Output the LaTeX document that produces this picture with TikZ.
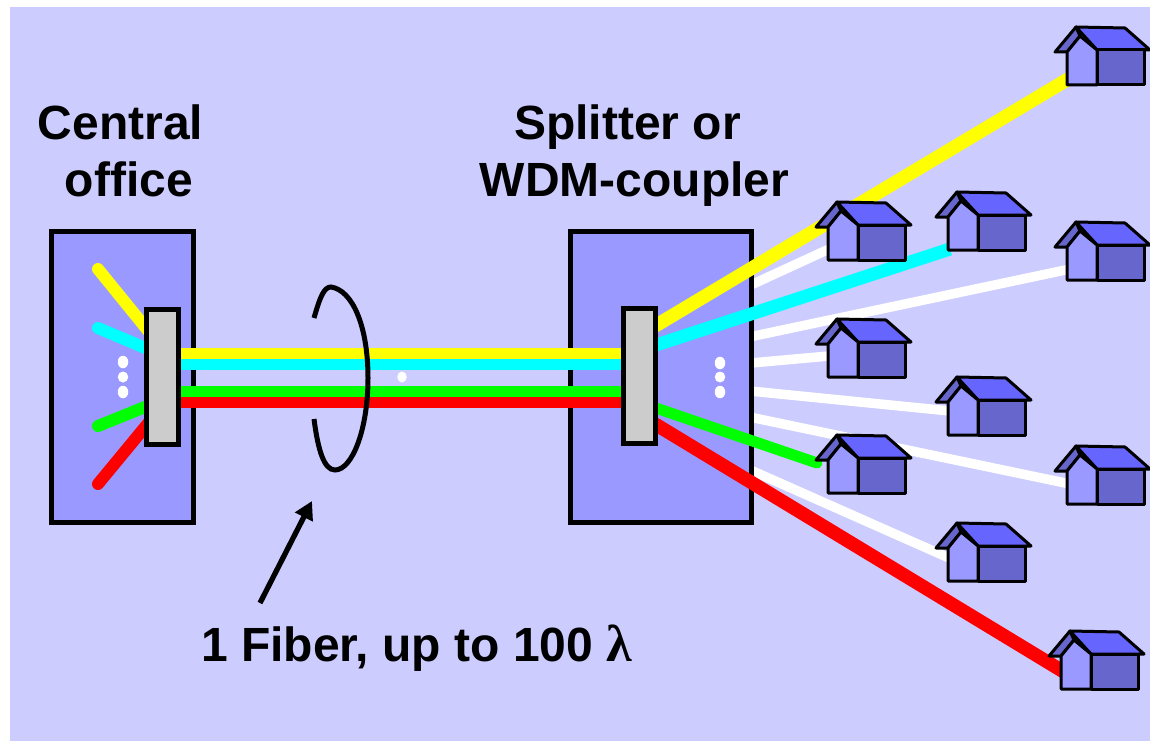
\documentclass[tikz,border=0pt]{standalone}
\usepackage{fontspec}
\setmainfont{Liberation Sans}
\newfontfamily\lambdafont{Liberation Serif}
\usepackage{tikz}
\usetikzlibrary{shapes.geometric,arrows.meta}
\definecolor{backblue}{HTML}{CCCCFF}
\definecolor{boxblue}{HTML}{9999FF}
\definecolor{roofblue}{HTML}{6666FF}
\definecolor{sideblue}{HTML}{6666CC}
\definecolor{fibyellow}{HTML}{FFFF00}
\definecolor{fibcyan}{HTML}{00FFFF}
\definecolor{fibgreen}{HTML}{00FF00}
\definecolor{fibred}{HTML}{FF0000}
\tikzstyle{net}=[x=1pt,y=-1pt,line join=miter]
\tikzstyle{office}=[rectangle,draw,line width=5pt,fill=boxblue,inner sep=0pt]
\tikzstyle{port}=[rectangle,draw,line width=5pt,fill=black!20,inner sep=0pt,minimum width=32pt,minimum height=135pt]
\tikzstyle{caption}=[inner sep=0pt,align=center,font=\bfseries\fontsize{48}{57}\selectfont]
\tikzstyle{fibre}=[-,line width=11pt]
\tikzstyle{spoke}=[-,line width=13.5pt]
\tikzstyle{fan}=[-,line width=12pt,line cap=round]
\tikzstyle{drop}=[-,line width=9.5pt,draw=white]
\tikzstyle{dot}=[ellipse,fill=white,inner sep=0pt,minimum width=10.5pt,minimum height=12.5pt]
\tikzstyle{wall}=[draw=black,line width=3pt,line join=round]
\tikzstyle{pointer}=[-{Triangle[length=18pt,width=19pt]},line width=5.3pt]
\tikzset{house/.pic={
	\draw[wall,fill=sideblue] (0,0) -- (-21,25) -- (-9,25) -- (4,9) -- cycle;
	\draw[wall,fill=roofblue] (0,0) -- (49,1) -- (74,23) -- (21,23) -- cycle;
	\draw[wall,fill=boxblue] (-9,25) -- (-9,58) -- (21,58) -- (21,23) -- (4,9) -- cycle;
	\draw[wall,fill=sideblue] (21,23) -- (21,58) -- (68,58) -- (68,23) -- cycle;
}}
\begin{document}
\begin{tikzpicture}[net]
	\useasboundingbox (0,0) rectangle (1150,741);
	\fill[backblue] (10,7) rectangle (1150,741);

	%The fibre ends
	\coordinate (co-y) at (181,353);
	\coordinate (co-c) at (181,364.5);
	\coordinate (co-g) at (181,391);
	\coordinate (co-r) at (181,402);
	\coordinate (sp-y) at (622,353);
	\coordinate (sp-c) at (622,364.5);
	\coordinate (sp-g) at (622,391);
	\coordinate (sp-r) at (622,402);

	%The white drops, under the splitter
	\draw[drop] (740,290) -- (840,244);
	\draw[drop] (740,339) -- (1070,269);
	\draw[drop] (740,364) -- (840,355);
	\draw[drop] (740,390) -- (950,411);
	\draw[drop] (740,415) -- (1070,484);
	\draw[drop] (740,465.4) -- (950,558.4);

	%The two boxes
	\draw (122.5,376.75) node[office,minimum width=142pt,minimum height=290.5pt] (central) {};
	\draw (661,376.75) node[office,minimum width=181pt,minimum height=290.5pt] (splitter) {};

	%The fan in the central office
	\draw[fan,fibyellow] (98,269) -- (150,333);
	\draw[fan,fibcyan] (98,328) -- (150,350);
	\draw[fan,fibgreen] (98,426) -- (150,405);
	\draw[fan,fibred] (98,484) -- (150,421);

	%The one fiber
	\draw[fibre,fibyellow] (co-y) -- (sp-y);
	\draw[fibre,fibcyan] (co-c) -- (sp-c);
	\draw[fibre,fibgreen] (co-g) -- (sp-g);
	\draw[fibre,fibred] (co-r) -- (sp-r);

	%The coloured drops
	\draw[spoke,fibyellow] (650,329) -- (1070,78);
	\draw[spoke,fibcyan,line width=13pt] (650,347) -- (950,249);
	\draw[fibre,fibgreen,line cap=round] (650,406) -- (817,463);
	\draw[spoke,fibred] (650,421) -- (1064,672);

	%The connectors
	\draw (162.5,377) node[port] (port-co) {};
	\draw (639,376) node[port] (port-sp) {};

	%The dots
	\draw (123,362) node[dot] (dot-a) {};
	\draw (123,377) node[dot,minimum height=11pt] (dot-b) {};
	\draw (123,392) node[dot] (dot-c) {};
	\draw (720,363) node[dot] (dot-d) {};
	\draw (720,377) node[dot,minimum height=11pt] (dot-e) {};
	\draw (720,392) node[dot] (dot-f) {};
	\draw (402,377) node[dot,minimum width=9.5pt,minimum height=11pt] (dot-g) {};

	%The houses
	\pic (h1) at (1076,27) {house};
	\pic (h2) at (837,202) {house};
	\pic (h3) at (957,192) {house};
	\pic (h4) at (1076,222) {house};
	\pic (h5) at (837,319) {house};
	\pic (h6) at (957,377) {house};
	\pic (h7) at (837,435) {house};
	\pic (h8) at (1076,446) {house};
	\pic (h9) at (957,523) {house};
	\pic (h10) at (1070,631) {house};

	%The loop round the fiber
	\draw[line width=5pt] (314,318) .. controls (320,297) and (324,287) .. (331,287)
		.. controls (352,290) and (368,325) .. (368,378)
		.. controls (368,430) and (352,470) .. (335,470)
		.. controls (324,470) and (318,450) .. (314,419);

	%The labels
	\draw (129,151) node[caption] (lbl-central) {Central\hspace*{17pt}\\office};
	\draw (634.5,156) node[caption] (lbl-splitter) {Splitter or\hspace*{14pt}\\WDM-coupler};
	\draw (201,661) node[caption,anchor=base west] (lbl-fiber) {1 Fiber, up to 100 {\lambdafont\fontsize{52}{52}\selectfont λ}};

	%The arrow
	\coordinate (arrow-tip) at (312,501);
	\coordinate (arrow-tail) at (260,603);
	\draw[pointer] (arrow-tail) -- (arrow-tip);
\end{tikzpicture}
\end{document}
